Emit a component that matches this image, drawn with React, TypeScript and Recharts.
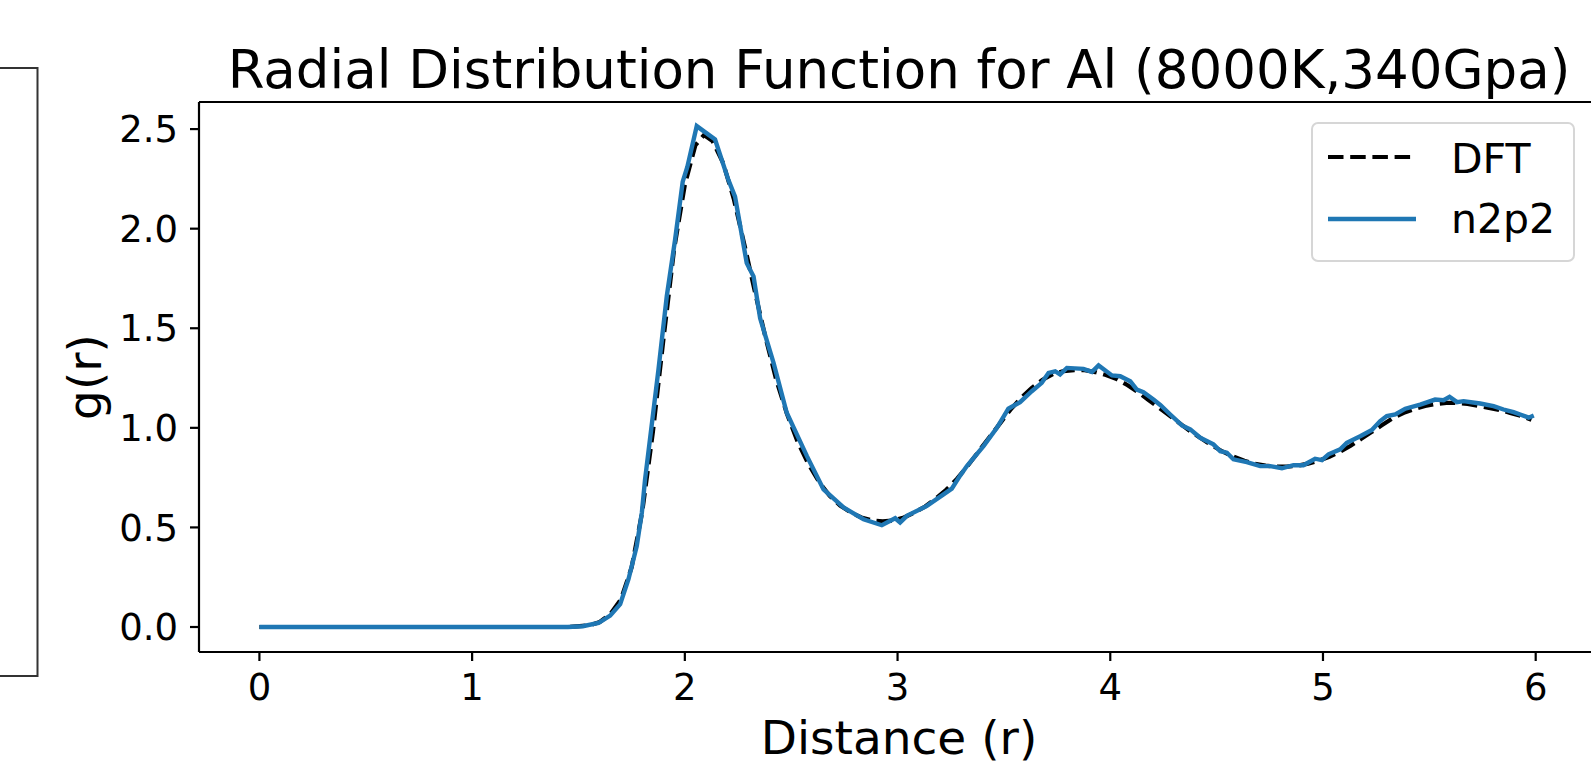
import React from "react";
import { LineChart, Line, XAxis, YAxis, ReferenceLine } from "recharts";

// DFT reference curve (smooth, dashed)
const dftR = [
  0, 1.45, 1.55, 1.6, 1.65, 1.7, 1.75, 1.8, 1.85, 1.9, 1.95, 2.0, 2.05, 2.09, 2.13,
  2.18, 2.23, 2.28, 2.33, 2.38, 2.43, 2.48, 2.53, 2.58, 2.63,
  2.68, 2.73, 2.78, 2.83, 2.88, 2.93, 2.98, 3.03, 3.08, 3.13,
  3.18, 3.23, 3.28, 3.33, 3.38, 3.43, 3.48, 3.53, 3.58, 3.63,
  3.68, 3.73, 3.78, 3.83, 3.88, 3.93, 3.98, 4.03, 4.08, 4.13,
  4.18, 4.23, 4.28, 4.33, 4.38, 4.43, 4.48, 4.53, 4.58, 4.63,
  4.68, 4.73, 4.78, 4.83, 4.88, 4.93, 4.98, 5.03, 5.08, 5.13,
  5.18, 5.23, 5.28, 5.33, 5.38, 5.43, 5.48, 5.53, 5.58, 5.63,
  5.68, 5.73, 5.78, 5.83, 5.88, 5.93, 5.98,
];
const dftG = [
  0, 0, 0.008, 0.025, 0.065, 0.14, 0.3, 0.58, 0.98, 1.45, 1.9, 2.22, 2.42, 2.47, 2.44,
  2.33, 2.15, 1.92, 1.68, 1.45, 1.24, 1.07, 0.93, 0.82, 0.73,
  0.66, 0.61, 0.575, 0.55, 0.535, 0.53, 0.535, 0.55, 0.575, 0.605,
  0.645, 0.69, 0.745, 0.81, 0.88, 0.95, 1.02, 1.09, 1.15, 1.2,
  1.24, 1.27, 1.285, 1.29, 1.29, 1.28, 1.265, 1.245, 1.215, 1.18,
  1.14, 1.1, 1.06, 1.02, 0.98, 0.945, 0.91, 0.88, 0.855, 0.835,
  0.82, 0.81, 0.805, 0.805, 0.81, 0.82, 0.835, 0.855, 0.88, 0.91,
  0.945, 0.98, 1.015, 1.05, 1.075, 1.095, 1.11, 1.12, 1.125, 1.125,
  1.12, 1.11, 1.1, 1.09, 1.075, 1.06, 1.04,
];

// n2p2 prediction (slightly noisy)
const n2p2R = [
  0, 1.45, 1.52, 1.594, 1.649, 1.696, 1.735, 1.774, 1.798, 1.813, 1.845,
  1.876, 1.915, 1.954, 1.99, 2.012, 2.056, 2.142, 2.205, 2.236, 2.291,
  2.323, 2.354, 2.417, 2.479, 2.574, 2.652, 2.746, 2.84, 2.926, 2.989,
  3.012, 3.044, 3.138, 3.216, 3.255, 3.294, 3.326, 3.404, 3.467, 3.521,
  3.576, 3.631, 3.678, 3.71, 3.741, 3.764, 3.796, 3.874, 3.914, 3.945,
  4.008, 4.047, 4.094, 4.125, 4.156, 4.203, 4.235, 4.282, 4.337, 4.376,
  4.423, 4.485, 4.517, 4.548, 4.579, 4.642, 4.705, 4.752, 4.807, 4.861,
  4.908, 4.963, 4.995, 5.026, 5.081, 5.112, 5.175, 5.23, 5.269, 5.3,
  5.34, 5.387, 5.457, 5.527, 5.567, 5.595, 5.63, 5.661, 5.739, 5.802,
  5.849, 5.896, 5.927, 5.967, 5.991,
];
const n2p2G = [
  0, 0, 0.004, 0.02, 0.057, 0.115, 0.24, 0.407, 0.575, 0.741, 1.02,
  1.293, 1.66, 1.944, 2.236, 2.311, 2.515, 2.448, 2.244, 2.161, 1.827,
  1.76, 1.55, 1.326, 1.076, 0.858, 0.691, 0.6, 0.541, 0.511, 0.546,
  0.525, 0.558, 0.608, 0.666, 0.695, 0.76, 0.808, 0.908, 1.0, 1.096,
  1.129, 1.184, 1.226, 1.276, 1.284, 1.268, 1.301, 1.296, 1.281, 1.313,
  1.263, 1.259, 1.234, 1.192, 1.179, 1.142, 1.115, 1.067, 1.012, 0.992,
  0.95, 0.917, 0.883, 0.875, 0.842, 0.828, 0.808, 0.808, 0.797, 0.813,
  0.812, 0.845, 0.838, 0.867, 0.892, 0.925, 0.958, 0.989, 1.034, 1.059,
  1.067, 1.096, 1.117, 1.142, 1.139, 1.156, 1.129, 1.134, 1.122, 1.109,
  1.092, 1.079, 1.067, 1.051, 1.062,
];

const xTicks = [0, 1, 2, 3, 4, 5, 6];
const yTicks = [0, 0.5, 1.0, 1.5, 2.0, 2.5];
const seriesNames = ["DFT", "n2p2"];

const X_DOMAIN: [number, number] = [-0.284, 6.26];
const Y_DOMAIN: [number, number] = [-0.1255, 2.636];

const FONT = "DejaVu Sans";
const BLUE = "#1f77b4";

const dftData = dftR.map((r, i) => ({ r, g: dftG[i] }));
const n2p2Data = n2p2R.map((r, i) => ({ r, g: n2p2G[i] }));

const App = () => {
  return (
    <div style={{ position: "absolute", left: 0, top: 0, width: 1591, height: 764, background: "#fff" }}>
      <LineChart width={1591} height={764} margin={{ top: 102, right: 0, bottom: 0, left: 0 }}>
        <XAxis
          type="number"
          dataKey="r"
          domain={X_DOMAIN}
          allowDataOverflow
          ticks={xTicks}
          height={112}
          tickSize={9}
          tickMargin={13}
          axisLine={{ stroke: "#000", strokeWidth: 2.2 }}
          tickLine={{ stroke: "#000", strokeWidth: 2.2 }}
          tick={{ fill: "#000", fontSize: 37, fontFamily: FONT }}
        />
        <YAxis
          type="number"
          domain={Y_DOMAIN}
          allowDataOverflow
          ticks={yTicks}
          width={199}
          tickSize={9}
          tickMargin={12}
          tickFormatter={(v: number) => v.toFixed(1)}
          axisLine={{ stroke: "#000", strokeWidth: 2.2 }}
          tickLine={{ stroke: "#000", strokeWidth: 2.2 }}
          tick={{ fill: "#000", fontSize: 37, fontFamily: FONT }}
        />
        <ReferenceLine y={Y_DOMAIN[1]} stroke="#000" strokeWidth={2.2} />
        <Line
          data={dftData}
          dataKey="g"
          name={seriesNames[0]}
          type="linear"
          stroke="#000"
          strokeWidth={4.2}
          strokeDasharray="15.5 6.7"
          dot={false}
          isAnimationActive={false}
        />
        <Line
          data={n2p2Data}
          dataKey="g"
          name={seriesNames[1]}
          type="linear"
          stroke={BLUE}
          strokeWidth={4.4}
          dot={false}
          isAnimationActive={false}
        />
      </LineChart>
      <svg
        width={1591}
        height={764}
        style={{ position: "absolute", left: 0, top: 0, pointerEvents: "none" }}
      >
        <path d="M -4 68 H 37.5 V 676 H -4" fill="none" stroke="#333" strokeWidth={2} />
        <text x={899} y={88} textAnchor="middle" fontFamily={FONT} fontSize={53} fill="#000">
          Radial Distribution Function for Al (8000K,340Gpa)
        </text>
        <text x={899} y={754} textAnchor="middle" fontFamily={FONT} fontSize={47} fill="#000">
          Distance (r)
        </text>
        <text
          x={101}
          y={377}
          textAnchor="middle"
          fontFamily={FONT}
          fontSize={47}
          fill="#000"
          transform="rotate(-90 101 377)"
        >
          g(r)
        </text>
        {/* legend */}
        <g transform="translate(1312 123)">
          <rect x={0} y={0} width={262} height={138} rx={6} ry={6} fill="#fff" fillOpacity={0.8} stroke="#d6d6d6" strokeWidth={2} />
          <line x1={16} y1={34} x2={104} y2={34} stroke="#000" strokeWidth={4.2} strokeDasharray="15.5 6.7" />
          <text x={139} y={50} fontFamily={FONT} fontSize={41} fill="#000">{seriesNames[0]}</text>
          <line x1={16} y1={96} x2={104} y2={96} stroke={BLUE} strokeWidth={4.4} />
          <text x={139} y={110} fontFamily={FONT} fontSize={41} fill="#000">{seriesNames[1]}</text>
        </g>
      </svg>
    </div>
  );
};

export default App;
